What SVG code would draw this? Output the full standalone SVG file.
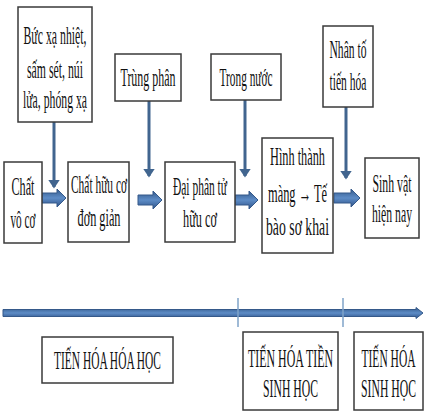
<svg xmlns="http://www.w3.org/2000/svg" width="430" height="416" viewBox="0 0 430 416">
<defs>
<style>
.box{fill:#ffffff;stroke:#3a3a3a;stroke-width:1.5}
.t{font-family:"Liberation Serif","Times New Roman",serif;font-size:25px;fill:#111111;text-anchor:middle}
.vl{stroke:#41658f;stroke-width:3;fill:none;marker-end:url(#ah)}
.big{fill:url(#bg);stroke:#35598a;stroke-width:1}
.tick{stroke:#7fa3c8;stroke-width:1.5}
</style>
<marker id="ah" markerWidth="4" markerHeight="4" refX="2.5" refY="2" orient="auto" markerUnits="strokeWidth">
<path d="M0,0 L3,2 L0,4 Z" fill="#41658f"/>
</marker>
<linearGradient id="bg" x1="0" y1="0" x2="0" y2="1">
<stop offset="0" stop-color="#355b8c"/>
<stop offset="0.5" stop-color="#5d8cc6"/>
<stop offset="1" stop-color="#30548a"/>
</linearGradient>
</defs>
<rect width="430" height="416" fill="#ffffff"/>

<g id="connectors">
<line class="vl" x1="54" y1="122" x2="54" y2="187"/>
<line class="vl" x1="149" y1="101" x2="149" y2="176"/>
<line class="vl" x1="245" y1="100" x2="245" y2="176"/>
<line class="vl" x1="346" y1="107" x2="346" y2="178"/>
<path class="big" d="M42,193 L57,193 L57,189 L66,198 L57,207 L57,203 L42,203 Z"/>
<path class="big" d="M138,195 L153,195 L153,191 L162,200 L153,209 L153,205 L138,205 Z"/>
<path class="big" d="M235,195 L249,195 L249,191 L258,200 L249,209 L249,205 L235,205 Z"/>
<path class="big" d="M334,193 L351,193 L351,189 L360,198 L351,207 L351,203 L334,203 Z"/>
<path class="big" d="M3,309.5 L416,309.5 L416,307.5 L423,313 L416,318.5 L416,316.5 L3,316.5 Z"/>
<line class="tick" x1="238" y1="298" x2="238" y2="327"/>
<line class="tick" x1="343" y1="298" x2="343" y2="327"/>
</g>

<g id="n-buc-xa">
<rect class="box" x="18" y="7" width="74" height="115"/>
<text class="t" x="55" y="44" textLength="63" lengthAdjust="spacingAndGlyphs">Bức xạ nhiệt,</text>
<text class="t" x="55" y="78" textLength="56" lengthAdjust="spacingAndGlyphs">sấm sét, núi</text>
<text class="t" x="55" y="108" textLength="64" lengthAdjust="spacingAndGlyphs">lửa, phóng xạ</text>
</g>

<g id="n-trung-phan">
<rect class="box" x="115" y="54" width="66" height="47"/>
<text class="t" x="148" y="86" textLength="55" lengthAdjust="spacingAndGlyphs">Trùng phân</text>
</g>

<g id="n-trong-nuoc">
<rect class="box" x="211" y="54" width="70" height="46"/>
<text class="t" x="246" y="86" textLength="53" lengthAdjust="spacingAndGlyphs">Trong nước</text>
</g>

<g id="n-nhan-to">
<rect class="box" x="323" y="26" width="50" height="81"/>
<text class="t" x="348" y="58" textLength="37" lengthAdjust="spacingAndGlyphs">Nhân tố</text>
<text class="t" x="348" y="90" textLength="37" lengthAdjust="spacingAndGlyphs">tiến hóa</text>
</g>

<g id="n-chat-vo-co">
<rect class="box" x="4" y="162" width="38" height="81"/>
<text class="t" x="23" y="195" textLength="23" lengthAdjust="spacingAndGlyphs">Chất</text>
<text class="t" x="23" y="228" textLength="25" lengthAdjust="spacingAndGlyphs">vô cơ</text>
</g>

<g id="n-chat-huu-co">
<rect class="box" x="68" y="162" width="61" height="80"/>
<text class="t" x="99" y="193" textLength="56" lengthAdjust="spacingAndGlyphs">Chất hữu cơ</text>
<text class="t" x="99" y="226" textLength="43" lengthAdjust="spacingAndGlyphs">đơn giản</text>
</g>

<g id="n-dai-phan-tu">
<rect class="box" x="165" y="162" width="70" height="80"/>
<text class="t" x="200" y="195" textLength="54" lengthAdjust="spacingAndGlyphs">Đại phân tử</text>
<text class="t" x="200" y="227" textLength="34" lengthAdjust="spacingAndGlyphs">hữu cơ</text>
</g>

<g id="n-hinh-thanh">
<rect class="box" x="262" y="138" width="71" height="115"/>
<text class="t" x="297.5" y="165" textLength="55" lengthAdjust="spacingAndGlyphs">Hình thành</text>
<text class="t" x="297.5" y="202" textLength="59" lengthAdjust="spacingAndGlyphs">màng → Tế</text>
<text class="t" x="297.5" y="235" textLength="63" lengthAdjust="spacingAndGlyphs">bào sơ khai</text>
</g>

<g id="n-sinh-vat">
<rect class="box" x="365" y="158" width="54" height="80"/>
<text class="t" x="392" y="192" textLength="39" lengthAdjust="spacingAndGlyphs">Sinh vật</text>
<text class="t" x="392" y="222" textLength="40" lengthAdjust="spacingAndGlyphs">hiện nay</text>
</g>

<g id="n-th-hoa-hoc">
<rect class="box" x="42" y="337" width="131" height="46"/>
<text class="t" x="107.5" y="369" textLength="107" lengthAdjust="spacingAndGlyphs">TIẾN HÓA HÓA HỌC</text>
</g>

<g id="n-th-tien-sinh-hoc">
<rect class="box" x="243" y="332" width="95" height="78"/>
<text class="t" x="290.5" y="367" textLength="85" lengthAdjust="spacingAndGlyphs">TIẾN HÓA TIỀN</text>
<text class="t" x="290.5" y="397" textLength="55" lengthAdjust="spacingAndGlyphs">SINH HỌC</text>
</g>

<g id="n-th-sinh-hoc">
<rect class="box" x="354" y="332" width="69" height="78"/>
<text class="t" x="388.5" y="367" textLength="54" lengthAdjust="spacingAndGlyphs">TIẾN HÓA</text>
<text class="t" x="388.5" y="397" textLength="55" lengthAdjust="spacingAndGlyphs">SINH HỌC</text>
</g>
</svg>
